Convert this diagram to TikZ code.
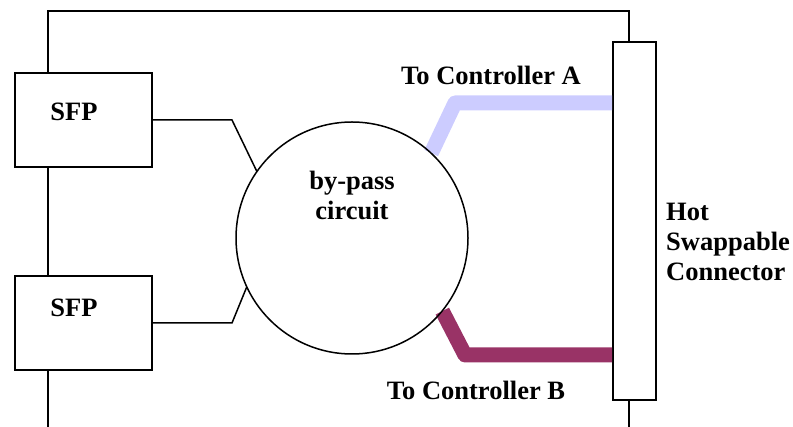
\documentclass[tikz,border=0pt]{standalone}
\usepackage{fontspec}
\setmainfont{Liberation Serif}[BoldFont={Liberation Serif Bold}]
\usepackage{xcolor}
\usetikzlibrary{calc}
\definecolor{ctrlA}{HTML}{CCCCFF}
\definecolor{ctrlB}{HTML}{993366}

\begin{document}
\begin{tikzpicture}[x=1pt, y=-1pt,
    every node/.style={font=\rmfamily\bfseries\fontsize{26.5}{30}\selectfont, inner sep=0pt},
    wire/.style={line width=2pt},
    thinwire/.style={line width=1.5pt},
    sfpbox/.style={draw, line width=2pt, fill=white, minimum width=137pt, minimum height=94pt},
    link/.style={line width=15pt, line join=round}]
    \useasboundingbox (0,0) rectangle (793,427);

    % Frame
    \coordinate (TL) at (48,11);
    \coordinate (BL) at (48,427);
    \coordinate (TR) at (629,11);
    \coordinate (BR) at (629,427);
    \node[draw, line width=2pt, minimum width=43pt, minimum height=358pt] (hsc) at (634.5,221) {};
    \draw[wire] (BL) -- (TL) -- (TR) -- (TR |- hsc.north);
    \draw[wire] (BR |- hsc.south) -- (BR);

    % Controller links
    \node[circle, minimum size=232pt] (bypass) at (352,238) {};
    \coordinate (bendA) at (455,103);
    \coordinate (bendB) at (465,355);
    \draw[link, ctrlA] (bypass.47) -- (bendA) -- (bendA -| hsc.west);
    \draw[link, ctrlB] (bypass.-39) -- (bendB) -- (bendB -| hsc.west);

    % By-pass circuit
    \draw[thinwire] (bypass) circle (116pt);
    \node[align=center] (bypasstxt) at (352,195) {by-pass\\circuit};

    % SFP boxes
    \node[sfpbox] (sfpA) at (83.5,120) {};
    \node[sfpbox] (sfpB) at (83.5,323) {};
    \node (sfpAtxt) at (74,112) {SFP};
    \node (sfpBtxt) at (74,308) {SFP};

    % Wires to the circuit
    \coordinate (kinkA) at (232,120);
    \coordinate (kinkB) at (232,323);
    \draw[thinwire] (sfpA.east) -- (kinkA) -- (bypass.145);
    \draw[thinwire] (sfpB.east) -- (kinkB) -- (bypass.205);

    % Labels
    \node (lblA) at (491,75) {To Controller A};
    \node (lblB) at (476,390) {To Controller B};
    \node[align=left, anchor=west] (hsctxt) at (666,242) {Hot\\Swappable\\Connector};
\end{tikzpicture}
\end{document}
